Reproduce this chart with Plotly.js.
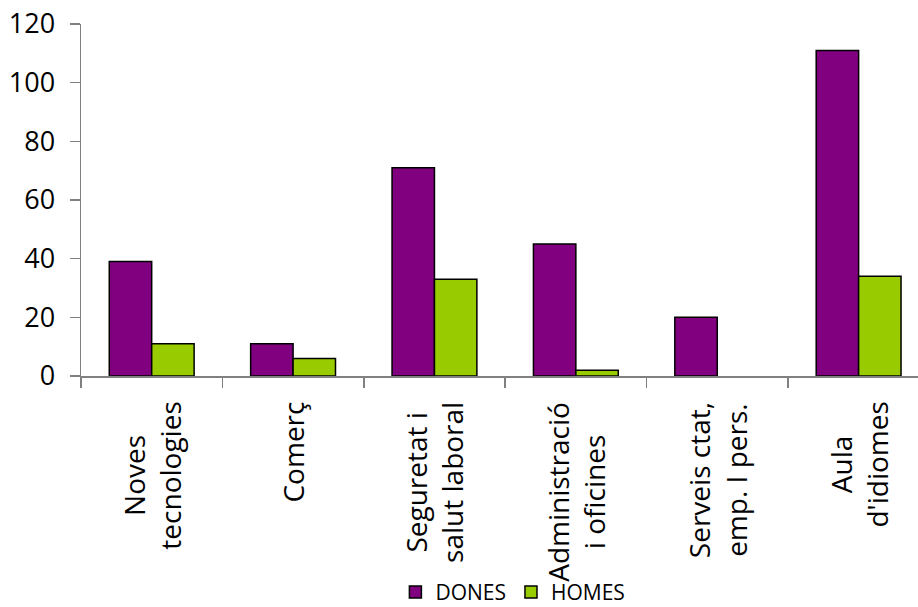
<!DOCTYPE html>
<html>
<head>
<meta charset="utf-8">
<script src="https://cdn.plot.ly/plotly-3.0.1.min.js"></script>
<style>html,body{margin:0;padding:0;background:#fff;}#chart{width:918px;height:607px;}</style>
</head>
<body>
<div id="chart"></div>
<script>
const categories = ["Noves<br>tecnologies", "Comerç", "Seguretat i<br>salut laboral", "Administració<br>i oficines", "Serveis ctat,<br>emp. I pers.", "Aula<br>d'idiomes"];
const dones = [39, 11, 71, 45, 20, 111];
const homes = [11, 6, 33, 2, 0, 34];

const font = "Open Sans, DejaVu Sans, sans-serif";
const data = [
  {type: "bar", name: "DONES", x: categories, y: dones,
   marker: {color: "#800080", line: {color: "#000", width: dones.map(v => v === 0 ? 0 : 1.5)}}},
  {type: "bar", name: "HOMES", x: categories, y: homes,
   marker: {color: "#99CC00", line: {color: "#000", width: homes.map(v => v === 0 ? 0 : 1.5)}}}
];
const annotations = categories.map((c, i) => ({
  xref: "x", yref: "paper", x: i, y: -0.068, xanchor: "center", yanchor: "top",
  text: c, textangle: -90, align: "center", showarrow: false,
  font: {family: font, size: 28, color: "#000"}
}));
const layout = {
  width: 918, height: 607,
  margin: {l: 81, r: 0, t: 24, b: 231},
  paper_bgcolor: "#fff", plot_bgcolor: "#fff",
  barmode: "group", bargap: 0.4, bargroupgap: 0,
  showlegend: true,
  legend: {orientation: "h", xref: "paper", x: 0.516, xanchor: "center",
           yref: "container", y: 0.024, yanchor: "middle",
           font: {family: font, size: 21, color: "#000"},
           itemwidth: 30, traceorder: "normal", bgcolor: "rgba(0,0,0,0)", borderwidth: 0},
  annotations: annotations,
  xaxis: {type: "category", range: [-0.5, 5.42], showline: true, linecolor: "#808080", linewidth: 1.5,
          ticks: "outside", tickson: "boundaries", ticklen: 10, tickcolor: "#808080", tickwidth: 1.5,
          showticklabels: false, automargin: false, showgrid: false, zeroline: false},
  yaxis: {range: [0, 120], dtick: 20, showline: true, linecolor: "#808080", linewidth: 1.5,
          ticks: "outside", ticklen: 10, tickcolor: "#808080", tickwidth: 1.5, ticklabelstandoff: 9,
          automargin: false,
          tickfont: {family: font, size: 27, color: "#000"}, showgrid: false, zeroline: false}
};
Plotly.newPlot("chart", data, layout, {displayModeBar: false, staticPlot: true});
</script>
</body>
</html>
